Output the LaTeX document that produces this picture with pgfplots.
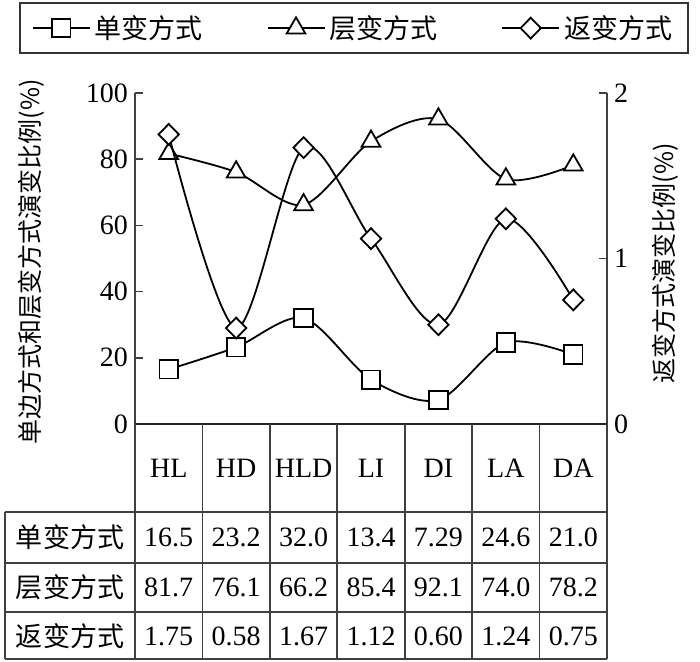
\documentclass[border=0pt]{standalone}
\usepackage{pgfplots}
\pgfplotsset{compat=1.18}
\usepackage{fontspec}
\setmainfont{Liberation Serif}
\newfontfamily\cjk{Noto Sans CJK SC}

\pgfplotsset{
  dan/.style={black, line width=0.9pt, smooth, tension=0.5, mark=square*,
    mark size=4.6pt, mark options={fill=white, solid}},
  ceng/.style={black, line width=0.9pt, smooth, tension=0.5, mark=triangle*,
    mark size=5.4pt, mark options={fill=white, solid}},
  fan/.style={black, line width=0.9pt, smooth, tension=0.5, mark=diamond*,
    mark size=5.2pt, mark options={fill=white, solid, xscale=1.3}},
  base/.style={
    at={(0pt,0pt)}, anchor=south west,
    scale only axis, width=236pt, height=165.5pt,
    xmin=-0.5, xmax=6.5,
    hide x axis,
    tick align=inside,
    major tick length=4pt,
    axis line style={line width=0.8pt, black!75},
    tick style={line width=0.8pt, black!75},
    tick label style={font=\fontsize{14}{16}\selectfont},
    /pgf/number format/assume math mode=true,
    label style={font=\cjk\fontsize{12.5}{14}\selectfont},
    clip=false,
  },
}

\begin{document}
\begin{tikzpicture}
\path[use as bounding box] (-67.5pt,-118.5pt) rectangle (282.5pt,212pt);

\begin{axis}[
  base,
  ymin=0, ymax=100,
  axis y line*=left,
  ytick={0,20,40,60,80,100},
  ylabel={单边方式和层变方式演变比例(\%)},
  ylabel style={at={(axis description cs:-0.22,0.49)}, anchor=center},
  legend columns=3,
  legend style={
    at={(axis description cs:0.464,1.196)}, anchor=center,
    draw=black!80, line width=1pt,
    font=\cjk\fontsize{13.5}{15}\selectfont,
    inner xsep=6pt, inner ysep=4pt,
    /tikz/every even column/.append style={column sep=30pt},
  },
  legend image code/.code={
    \draw[mark repeat=2, mark phase=2, smooth=false]
      plot coordinates {(0cm,0cm) (0.5cm,0cm) (1cm,0cm)};
  },
]
\addplot[dan] coordinates {
  (0,16.5) (1,23.2) (2,32.0) (3,13.4) (4,7.29) (5,24.6) (6,21.0)
};
\addlegendentry{单变方式}
\addplot[ceng] coordinates {
  (0,81.7) (1,76.1) (2,66.2) (3,85.4) (4,92.1) (5,74.0) (6,78.2)
};
\addlegendentry{层变方式}
\addlegendimage{fan}
\addlegendentry{返变方式}
\end{axis}

\begin{axis}[
  base,
  ymin=0, ymax=2,
  axis y line*=right,
  ytick={0,1,2},
  ylabel={返变方式演变比例(\%)},
  ylabel style={at={(axis description cs:1.123,0.486)}, anchor=center},
]
\addplot[fan] coordinates {
  (0,1.75) (1,0.58) (2,1.67) (3,1.12) (4,0.60) (5,1.24) (6,0.75)
};
\end{axis}

% data table below the plot
\def\cw{33.714}
\draw[line width=1.3pt, black!85] (0pt,0pt) -- (236pt,0pt);
\draw[line width=0.8pt, black!75]
  (-65pt,-44pt) -- (236pt,-44pt)
  (-65pt,-69.5pt) -- (236pt,-69.5pt)
  (-65pt,-94pt) -- (236pt,-94pt)
  (-65pt,-117.5pt) -- (236pt,-117.5pt)
  (-65pt,-44pt) -- (-65pt,-117.5pt);
\foreach \i in {0,...,7} {
  \draw[line width=0.8pt, black!75] (\i*\cw pt,0pt) -- (\i*\cw pt,-117.5pt);
}
\foreach \lab [count=\i from 0] in {HL,HD,HLD,LI,DI,LA,DA} {
  \node[font=\fontsize{14}{16}\selectfont] at ({(\i+0.5)*\cw pt},-22pt) {\lab};
}
\foreach \v [count=\i from 0] in {16.5,23.2,32.0,13.4,7.29,24.6,21.0} {
  \node[font=\fontsize{14}{16}\selectfont] at ({(\i+0.5)*\cw pt},-56.5pt) {\v};
}
\foreach \v [count=\i from 0] in {81.7,76.1,66.2,85.4,92.1,74.0,78.2} {
  \node[font=\fontsize{14}{16}\selectfont] at ({(\i+0.5)*\cw pt},-81.5pt) {\v};
}
\foreach \v [count=\i from 0] in {1.75,0.58,1.67,1.12,0.60,1.24,0.75} {
  \node[font=\fontsize{14}{16}\selectfont] at ({(\i+0.5)*\cw pt},-106pt) {\v};
}
\node[font=\cjk\fontsize{13.5}{15}\selectfont] at (-32.5pt,-56.5pt) {单变方式};
\node[font=\cjk\fontsize{13.5}{15}\selectfont] at (-32.5pt,-81.5pt) {层变方式};
\node[font=\cjk\fontsize{13.5}{15}\selectfont] at (-32.5pt,-106pt) {返变方式};
\end{tikzpicture}
\end{document}
